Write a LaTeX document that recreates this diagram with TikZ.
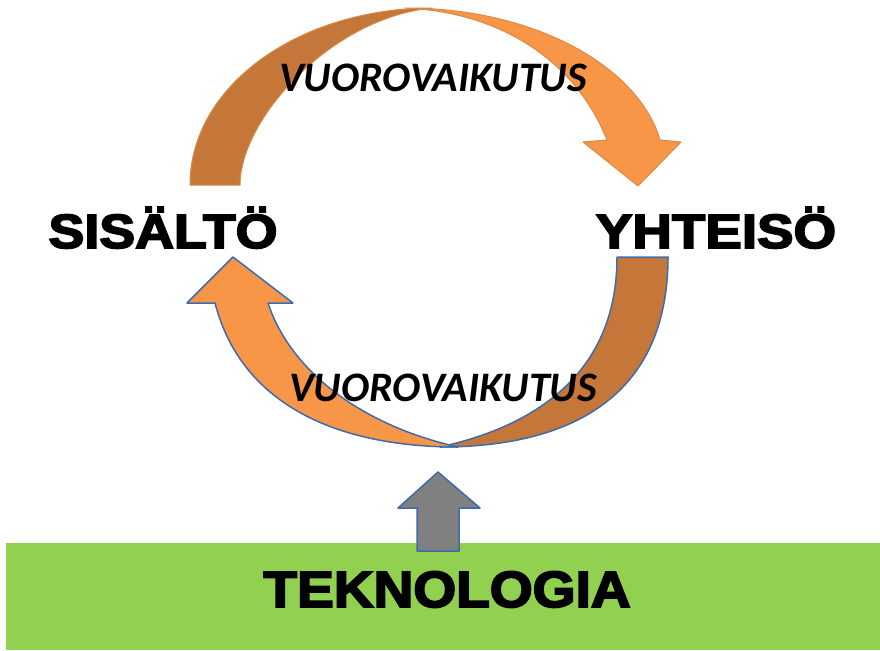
\documentclass[tikz,border=0pt]{standalone}
\usepackage{fontspec}
\setmainfont{Liberation Sans}
\newfontfamily\carl{Carlito}
\newfontfamily\heavy[FakeBold=3.5]{Liberation Sans Bold}
\definecolor{darkor}{HTML}{C5773A}
\definecolor{lightor}{HTML}{F79646}
\definecolor{oredge}{HTML}{D98A45}
\definecolor{blueedge}{HTML}{3F6BAE}
\definecolor{grn}{HTML}{92D050}
\definecolor{gry}{HTML}{808080}
\tikzset{
  toparrow/.style={line width=1pt, draw=oredge, line join=round},
  botarrow/.style={line width=1.5pt, draw=blueedge, line join=round},
  biglabel/.style={anchor=base, inner sep=0pt, font=\heavy\fontsize{48}{48}\selectfont},
  vlabel/.style={anchor=base, inner sep=0pt, font=\carl\bfseries\itshape\fontsize{42}{42}\selectfont},
}
\begin{document}
\begin{tikzpicture}[x=1pt,y=-1pt]
\useasboundingbox (0,0) rectangle (880,650);
% green band
\fill[grn] (6,543) rectangle (880,650);
% top arrow: back (dark) band
\draw[toparrow, fill=darkor] (190,185) .. controls (190,85) and (300,8) .. (432,8)
  .. controls (330,18) and (240,120) .. (240,185) -- cycle;
% top arrow: front (light) band with head
\draw[toparrow, fill=lightor] (405,8) .. controls (540,8) and (640,70) .. (660,140)
  -- (681,142) -- (638,186) -- (583,142) -- (607,140)
  .. controls (575,60) and (500,12) .. (405,8) -- cycle;
% bottom arrow: back (dark) band
\draw[botarrow, fill=darkor] (668,257) .. controls (668,390) and (580,447) .. (440,447)
  .. controls (540,425) and (617,370) .. (617,257) -- cycle;
% bottom arrow: front (light) band with head
\draw[botarrow, fill=lightor] (458,447) .. controls (360,425) and (290,370) .. (268,303)
  -- (293,303) -- (233,257) -- (187,303) -- (215,303)
  .. controls (240,400) and (330,447) .. (458,447) -- cycle;
% grey arrow
\draw[botarrow, fill=gry] (417,551) -- (417,508) -- (398,508) -- (438,472) -- (480,508)
  -- (459,508) -- (459,551) -- cycle;
% texts
\node[vlabel] (vtop) at (433,92) {VUOROVAIKUTUS};
\node[vlabel] (vbot) at (443,401) {VUOROVAIKUTUS};
\node[biglabel] (sis) at (163,248) {\scalebox{1.12}[1]{SISÄLTÖ}};
\node[biglabel] (yht) at (716,248) {\scalebox{1.14}[1]{YHTEISÖ}};
\node[biglabel, font=\heavy\fontsize{51}{51}\selectfont] (tek) at (447,607) {\scalebox{1.08}[1]{TEKNOLOGIA}};
\end{tikzpicture}
\end{document}
